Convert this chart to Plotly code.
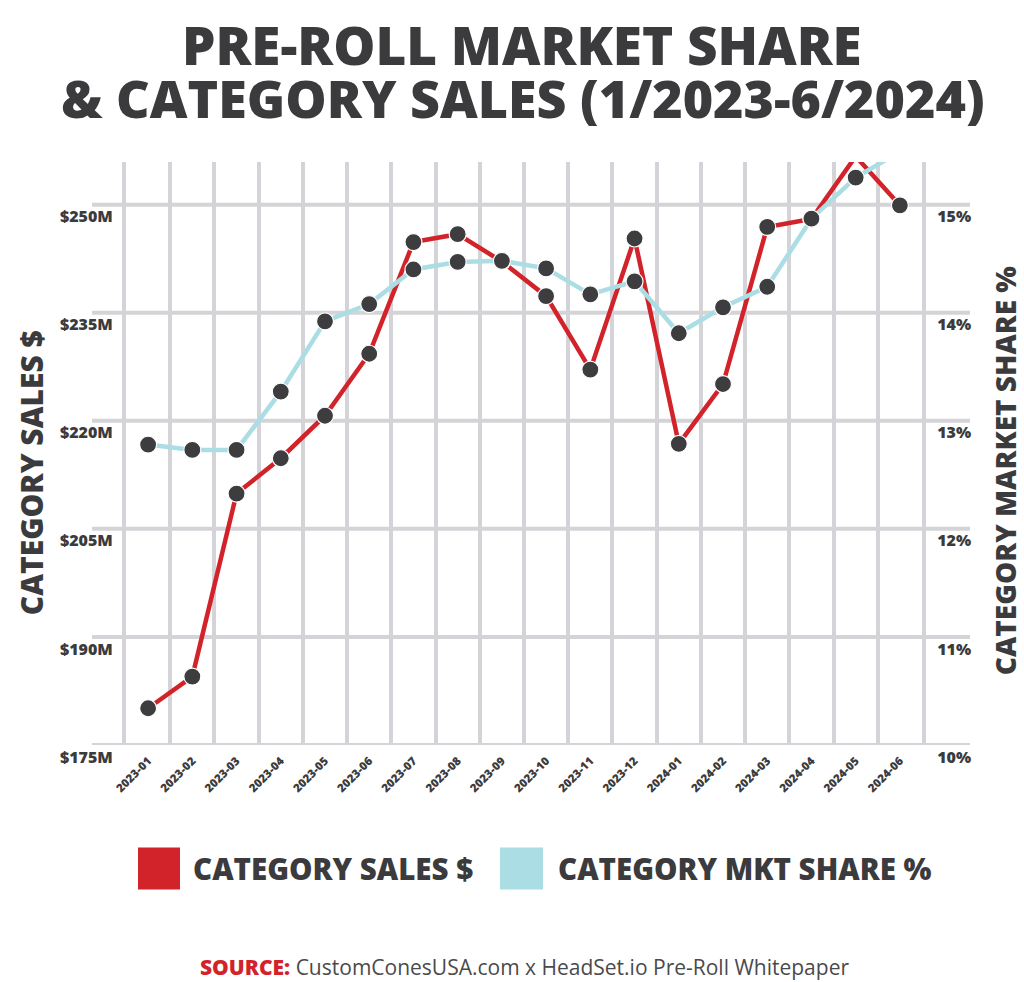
import plotly.graph_objects as go

months = ["2023-01", "2023-02", "2023-03", "2023-04", "2023-05", "2023-06",
          "2023-07", "2023-08", "2023-09", "2023-10", "2023-11", "2023-12",
          "2024-01", "2024-02", "2024-03", "2024-04", "2024-05", "2024-06"]
sales_m = [180.1, 184.5, 209.9, 214.8, 220.7, 229.3, 244.8, 245.9, 242.1,
           237.3, 227.1, 245.3, 216.8, 225.1, 246.9, 248.0, 256.7, 249.9]
share_pct = [12.78, 12.73, 12.73, 13.27, 13.92, 14.08, 14.40, 14.47, 14.48,
             14.41, 14.17, 14.29, 13.81, 14.05, 14.24, 14.87, 15.25, 15.49]
sales_ticks = [175, 190, 205, 220, 235, 250]
sales_tick_text = ["$175M", "$190M", "$205M", "$220M", "$235M", "$250M"]
share_ticks = [10, 11, 12, 13, 14, 15]
share_tick_text = ["10%", "11%", "12%", "13%", "14%", "15%"]

RED = "#d2232a"
BLUE = "#abdde4"
DOT = "#3d3d40"
GRID = "#d4d4d8"
TXT = "#3b3b3d"
FONT = "Open Sans"

W, H = 1024, 982
L, R, T, B = 126, 922, 162, 744.6


def px(x):
    return (x - L) / (R - L)


def py(y):
    return (B - y) / (B - T)


fig = go.Figure()
fig.add_trace(go.Scatter(x=months, y=share_pct, yaxis="y2", mode="lines",
                         line=dict(color=BLUE, width=4.5), cliponaxis=False,
                         showlegend=False, hoverinfo="skip"))
fig.add_trace(go.Scatter(x=months, y=sales_m, mode="lines",
                         line=dict(color=RED, width=4.5), cliponaxis=False,
                         showlegend=False, hoverinfo="skip"))
fig.add_trace(go.Scatter(x=months, y=share_pct, yaxis="y2", mode="markers",
                         marker=dict(color=DOT, size=17, line=dict(color="white", width=1.2)),
                         cliponaxis=False, showlegend=False))
fig.add_trace(go.Scatter(x=months, y=sales_m, mode="markers",
                         marker=dict(color=DOT, size=17, line=dict(color="white", width=1.2)),
                         cliponaxis=False, showlegend=False))

shapes = []
for v in sales_ticks:
    shapes.append(dict(type="line", xref="paper", yref="y", x0=px(92), x1=px(970),
                       y0=v, y1=v, line=dict(color=GRID, width=4), layer="below"))
# legend swatches
shapes.append(dict(type="rect", xref="paper", yref="paper", x0=px(138), x1=px(180),
                   y0=py(889), y1=py(847), fillcolor=RED, line=dict(width=0)))
shapes.append(dict(type="rect", xref="paper", yref="paper", x0=px(500), x1=px(543),
                   y0=py(889), y1=py(847), fillcolor=BLUE, line=dict(width=0)))

annotations = [
    dict(text="PRE-ROLL MARKET SHARE", x=px(522), y=py(45), xref="paper", yref="paper",
         showarrow=False, xanchor="center", yanchor="middle",
         font=dict(family=FONT, size=53, color=TXT, weight=800)),
    dict(text="& CATEGORY SALES (1/2023-6/2024)", x=px(523), y=py(98), xref="paper", yref="paper",
         showarrow=False, xanchor="center", yanchor="middle",
         font=dict(family=FONT, size=52, color=TXT, weight=800)),
    dict(text="CATEGORY SALES $", x=px(31), y=py(473), xref="paper", yref="paper",
         showarrow=False, textangle=-90, xanchor="center", yanchor="middle",
         font=dict(family=FONT, size=30, color=TXT, weight=800)),
    dict(text="CATEGORY MARKET SHARE %", x=px(1005), y=py(470), xref="paper", yref="paper",
         showarrow=False, textangle=-90, xanchor="center", yanchor="middle",
         font=dict(family=FONT, size=28, color=TXT, weight=800)),
    dict(text="CATEGORY SALES $", x=px(191), y=py(868), xref="paper", yref="paper",
         showarrow=False, xanchor="left", yanchor="middle",
         font=dict(family=FONT, size=29.5, color=TXT, weight=800)),
    dict(text="CATEGORY MKT SHARE %", x=px(556), y=py(868), xref="paper", yref="paper",
         showarrow=False, xanchor="left", yanchor="middle",
         font=dict(family=FONT, size=29.5, color=TXT, weight=800)),
    dict(text="<span style='color:%s;font-weight:800'>SOURCE:</span> CustomConesUSA.com x HeadSet.io Pre-Roll Whitepaper" % RED,
         x=px(524), y=py(966), xref="paper", yref="paper",
         showarrow=False, xanchor="center", yanchor="middle",
         font=dict(family=FONT, size=21, color="#4a4a4d")),
]

fig.update_layout(
    width=W, height=H,
    margin=dict(l=L, r=W - R, t=T, b=H - B, pad=0),
    plot_bgcolor="white", paper_bgcolor="white",
    font=dict(family=FONT, color=TXT),
    shapes=shapes, annotations=annotations,
    xaxis=dict(type="category", range=[-0.5, 17.5], tickson="boundaries",
               showgrid=True, gridcolor=GRID, gridwidth=4,
               showline=False, ticks="", tickangle=-45,
               tickfont=dict(family=FONT, size=11.5, color=TXT, weight=800),
               ticklabelstandoff=6, zeroline=False),
    yaxis=dict(range=[175, 175 + (B - T) / 7.2], tickvals=sales_ticks, ticktext=sales_tick_text,
               showgrid=False, zeroline=False, showline=True, linecolor=GRID, linewidth=4,
               ticks="", ticklabelshift=12, ticklabelstandoff=6,
               tickfont=dict(family=FONT, size=16, color=TXT, weight=800)),
    yaxis2=dict(range=[10, 10 + (B - T) / 108], overlaying="y", side="right",
                tickvals=share_ticks, ticktext=share_tick_text,
                showgrid=False, zeroline=False, showline=True, linecolor=GRID, linewidth=4,
                ticks="", ticklabelshift=12, ticklabelstandoff=8,
                tickfont=dict(family=FONT, size=16, color=TXT, weight=800)),
)

fig.write_html("out.html", config={"displayModeBar": False},
               post_script="document.body.style.margin='0';")
